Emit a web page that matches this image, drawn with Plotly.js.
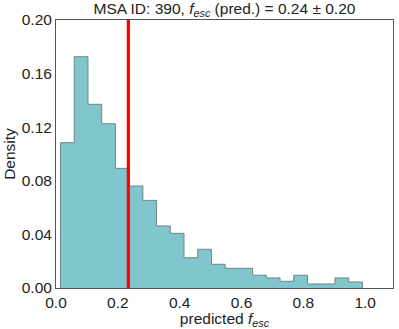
<!DOCTYPE html>
<html>
<head>
<meta charset="utf-8">
<script src="https://cdn.plot.ly/plotly-3.0.1.min.js"></script>
<style>html,body{margin:0;padding:0;background:#fff;}#chart{width:399px;height:329px;}</style>
</head>
<body>
<div id="chart"></div>
<script>
// Histogram bins (predicted f_esc)
const binStart = 0.0146;
const binWidth = 0.04438;
const densities = [0.1084, 0.1726, 0.1371, 0.1226, 0.0893, 0.0761, 0.0654, 0.0463,
                   0.0408, 0.0226, 0.0289, 0.0177, 0.0147, 0.0147, 0.0095, 0.0075,
                   0.0050, 0.0095, 0.0030, 0.0030, 0.0075, 0.0045];
const predictedValue = 0.234;
const xTickVals = [0.0, 0.2, 0.4, 0.6, 0.8, 1.0];
const yTickVals = [0.00, 0.04, 0.08, 0.12, 0.16, 0.20];

// step-filled outline built from bin edges
const edges = densities.map((_, i) => binStart + binWidth * i).concat([binStart + binWidth * densities.length]);
const stepX = [edges[0]].concat(edges, [edges[edges.length - 1]]);
const stepY = [0].concat(densities, [densities[densities.length - 1], 0]);

const fontFam = '"Liberation Sans", Arial, sans-serif';
const trace = {
  type: 'scatter', mode: 'lines',
  x: stepX, y: stepY,
  line: {shape: 'hv', color: 'rgb(110,135,138)', width: 1},
  fill: 'tozeroy', fillcolor: '#80c6cc',
  hoverinfo: 'skip'
};

const fs = 15.5;
const layout = {
  width: 399, height: 329,
  margin: {l: 56, r: 6, t: 20, b: 41, pad: 0},
  paper_bgcolor: '#fff', plot_bgcolor: '#fff',
  font: {family: fontFam, size: fs, color: '#222'},
  showlegend: false,
  title: {text: 'MSA ID: 390, <i>f</i><sub><i>esc</i></sub> (pred.) = 0.24 ± 0.20',
          x: 0.5625, xanchor: 'center', y: 0.99, yanchor: 'top',
          font: {family: fontFam, size: fs, color: '#222'}},
  xaxis: {
    range: [0, 1.09], tickvals: xTickVals, tickformat: '.1f',
    ticks: '', showgrid: false, zeroline: false,
    showline: true, mirror: true, linecolor: '#555', linewidth: 1,
    tickfont: {size: fs}, ticklabelstandoff: 0,
    title: {text: 'predicted <i>f</i><sub><i>esc</i></sub>', standoff: 0, font: {size: fs}}
  },
  yaxis: {
    range: [0, 0.2], tickvals: yTickVals, tickformat: '.2f',
    ticks: '', showgrid: false, zeroline: false,
    showline: true, mirror: true, linecolor: '#555', linewidth: 1,
    tickfont: {size: fs},
    title: {text: 'Density', standoff: 2, font: {size: fs}}
  },
  shapes: [{
    type: 'line', xref: 'x', yref: 'paper',
    x0: predictedValue, x1: predictedValue, y0: 0, y1: 1,
    line: {color: '#ff0000', width: 3.2}, layer: 'above'
  }]
};

Plotly.newPlot('chart', [trace], layout, {staticPlot: true, displayModeBar: false});
</script>
</body>
</html>
